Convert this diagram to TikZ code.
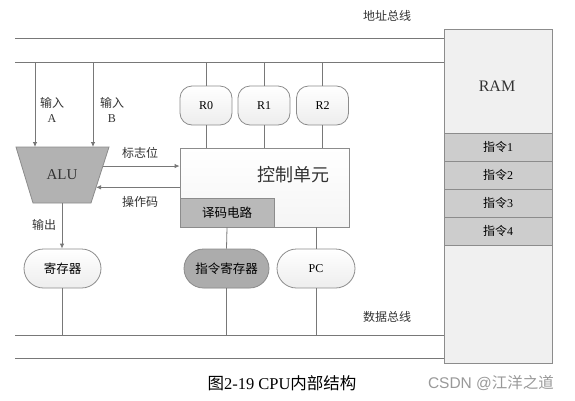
\documentclass[tikz,border=0pt]{standalone}
\usepackage{fontspec}
\setmainfont{Liberation Serif}
\newfontfamily\cjk{Noto Sans CJK SC}
\newfontfamily\wsans{Liberation Sans}
\usetikzlibrary{arrows.meta,calc}
\definecolor{lineC}{RGB}{120,120,120}
\definecolor{bordC}{RGB}{140,140,140}
\definecolor{aluG}{RGB}{178,178,178}
\definecolor{decG}{RGB}{185,185,185}
\definecolor{irG}{RGB}{172,172,172}
\definecolor{rowG}{RGB}{205,205,205}
\definecolor{ramG}{RGB}{240,240,240}
\tikzset{
  wire/.style={draw=lineC,line width=0.8pt},
  arr/.style={wire,-{Latex[length=5pt,width=4.5pt]}},
  rbox/.style={draw=bordC,line width=0.8pt,rounded corners=12pt,minimum width=52pt,minimum height=39pt,inner sep=0pt,top color=white,bottom color=gray!14,font=\fontsize{12}{14}\selectfont},
  pill/.style={draw=bordC,line width=0.8pt,rounded corners=19.5pt,minimum height=39pt,inner sep=0pt,top color=white,bottom color=gray!14,font=\fontsize{12.5}{14}\selectfont},
  sqbox/.style={draw=bordC,line width=0.8pt,inner sep=0pt},
  lbl/.style={inner sep=0pt,font=\fontsize{12}{15}\selectfont,text=black!80,align=center},
}
\begin{document}
\begin{tikzpicture}[x=1pt,y=-1pt]
\useasboundingbox (0,0) rectangle (575,400);
% RAM
\node[sqbox,fill=ramG,minimum width=108pt,minimum height=334pt] (ram) at (498,196) {};
\node[lbl,font=\fontsize{16}{18}\selectfont] (ramtext) at (497,86) {RAM};
\node[sqbox,fill=rowG,minimum width=108pt,minimum height=28pt,font=\fontsize{12}{14}\selectfont] (i1) at (498,147) {{\cjk 指令}1};
\node[sqbox,fill=rowG,minimum width=108pt,minimum height=28pt,font=\fontsize{12}{14}\selectfont] (i2) at (498,175) {{\cjk 指令}2};
\node[sqbox,fill=rowG,minimum width=108pt,minimum height=28pt,font=\fontsize{12}{14}\selectfont] (i3) at (498,203) {{\cjk 指令}3};
\node[sqbox,fill=rowG,minimum width=108pt,minimum height=28pt,font=\fontsize{12}{14}\selectfont] (i4) at (498,231) {{\cjk 指令}4};
% buses
\coordinate (ab1) at (15,38);
\coordinate (ab2) at (15,62);
\coordinate (db1) at (15,335);
\coordinate (db2) at (15,358);
\draw[wire] (ab1) -- (ab1 -| ram.west);
\draw[wire] (ab2) -- (ab2 -| ram.west);
\draw[wire] (db1) -- (db1 -| ram.west);
\draw[wire] (db2) -- (db2 -| ram.west);
\node[lbl] (abl) at (387,16) {\cjk 地址总线};
\node[lbl] (dbl) at (387,317) {\cjk 数据总线};
% registers R0-R2
\node[rbox] (r0) at (206,105.5) {R0};
\node[rbox] (r1) at (264,105.5) {R1};
\node[rbox] (r2) at (322.5,105.5) {R2};
% control unit
\node[sqbox,minimum width=169pt,minimum height=79pt,top color=white,bottom color=gray!8] (ctrl) at (264.5,187.5) {};
\node[lbl,font=\fontsize{18}{20}\selectfont] (ctrltext) at (293,175) {\cjk 控制单元};
\node[sqbox,fill=decG,minimum width=94pt,minimum height=29pt,font=\fontsize{12.5}{14}\selectfont] (dec) at (227,212.5) {\cjk 译码电路};
\foreach \r in {r0,r1,r2}{
  \draw[wire] (\r.north) -- (\r.north |- ab2);
  \draw[wire] (\r.south) -- (\r.south |- ctrl.north);
}
% ALU
\draw[draw=bordC,line width=0.8pt,fill=aluG] (16,147) coordinate (aluTL) -- (109,147) coordinate (aluTR) -- (91,203) coordinate (aluBR) -- (33,203) coordinate (aluBL) -- cycle;
\node[lbl,font=\fontsize{15}{17}\selectfont] (alu) at (62,175) {ALU};
\coordinate (inA) at (35,62);
\coordinate (inB) at (93,62);
\draw[arr] (inA) -- (inA |- aluTL);
\draw[arr] (inB) -- (inB |- aluTL);
\node[lbl] (la) at (52,109.5) {{\cjk 输入}\\A};
\node[lbl] (lb) at (112,109.5) {{\cjk 输入}\\B};
\coordinate (flagS) at ($(aluTR)!0.34!(aluBR)$);
\coordinate (opE) at ($(aluTR)!0.72!(aluBR)$);
\draw[arr] (flagS) -- (flagS -| ctrl.west);
\draw[arr] (opE -| ctrl.west) -- (opE);
\node[lbl] (lflag) at (140,153) {\cjk 标志位};
\node[lbl] (lop) at (140,202) {\cjk 操作码};
% bottom registers
\node[pill,minimum width=77pt] (reg) at (62.5,268.5) {\cjk 寄存器};
\node[pill,minimum width=85pt,fill=irG,top color=irG,bottom color=irG] (ir) at (226.5,268.5) {\cjk 指令寄存器};
\node[pill,minimum width=78pt,font=\fontsize{12}{14}\selectfont] (pc) at (316,268.5) {PC};
\coordinate (aluOut) at ($(aluBL)!0.5!(aluBR)$);
\draw[arr] (aluOut) -- (aluOut |- reg.north);
\node[lbl] (lout) at (44,225) {\cjk 输出};
\draw[wire] (dec.south) -- (ir.north);
\draw[wire] (pc.north |- ctrl.south) -- (pc.north);
\draw[wire] (reg.south) -- (reg.south |- db1);
\draw[wire] (ir.south) -- (ir.south |- db1);
\draw[wire] (pc.south) -- (pc.south |- db1);
% caption
\node[inner sep=0pt,font=\fontsize{16.5}{18}\selectfont] (cap) at (282,383) {{\cjk 图}2-19 CPU{\cjk 内部结构}};
\node[inner sep=0pt,text=gray!80,font=\fontsize{15.5}{18}\selectfont] (wm) at (491,383) {{\wsans CSDN @}{\cjk 江洋之道}};
\end{tikzpicture}
\end{document}
